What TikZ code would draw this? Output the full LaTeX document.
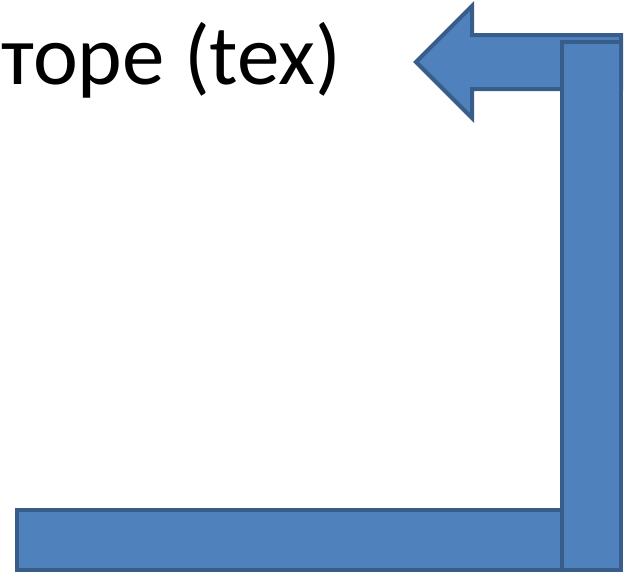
\documentclass[tikz,border=0pt]{standalone}
\usepackage{fontspec}
\setmainfont{Carlito}
\begin{document}
\begin{tikzpicture}[x=1pt,y=-1pt,
  bluebox/.style={fill={rgb,255:red,79;green,129;blue,189},draw={rgb,255:red,56;green,93;blue,138},line width=4pt,line join=miter}]
\useasboundingbox (0,0) rectangle (627,573);
\node[anchor=base west,inner sep=0pt,font=\fontsize{85}{100}\selectfont] (lbl) at (1,84) {торе (tex)};
\draw[bluebox] (416,62) -- (472,6) -- (472,35) -- (621,35) -- (621,89) -- (472,89) -- (472,118) -- cycle;
\draw[bluebox] (17,510) rectangle (562,570);
\draw[bluebox] (562,42) rectangle (621,570);
\end{tikzpicture}
\end{document}
